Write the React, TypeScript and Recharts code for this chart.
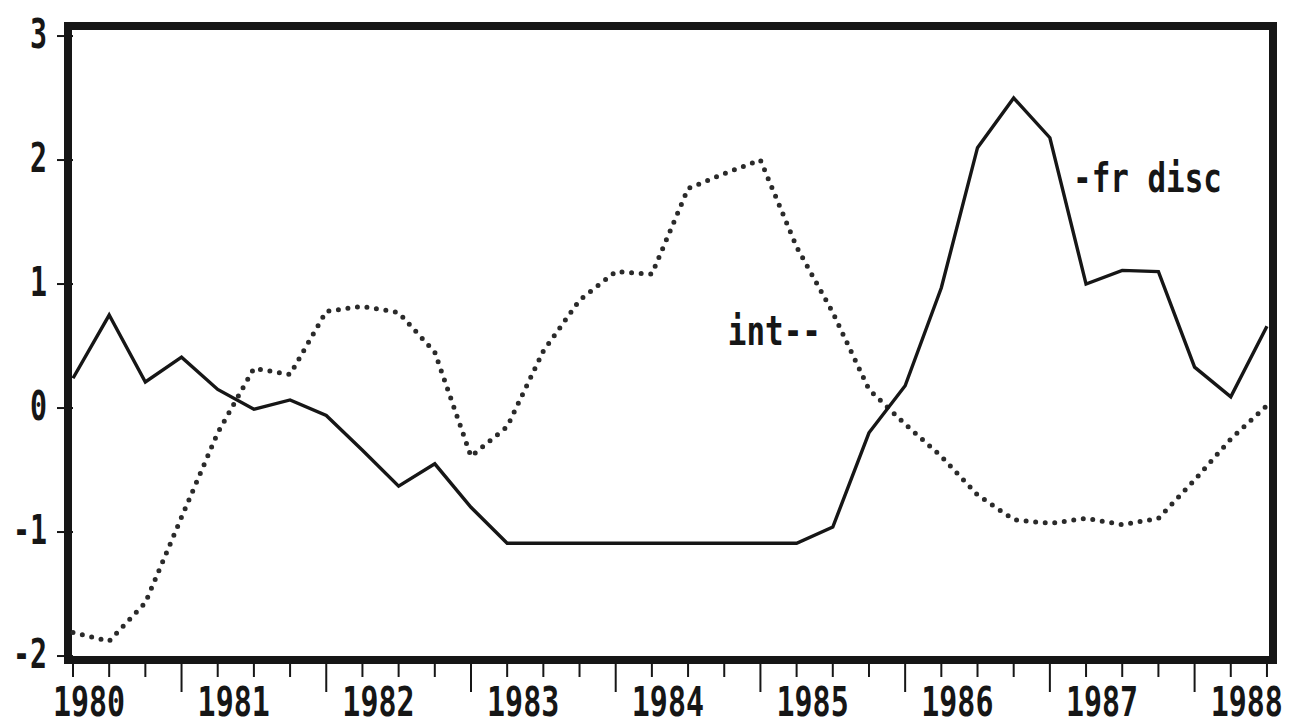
import React from 'react';
import { LineChart, Line, XAxis, YAxis, ReferenceArea, ReferenceDot } from 'recharts';

// quarter index (0 = 1980Q1 ... 33 = 1988Q2)
const quarterIdx = Array.from({ length: 34 }, (_, i) => i);
const frDisc = [0.24, 0.75, 0.21, 0.41, 0.15, -0.01, 0.065, -0.06, -0.34, -0.63, -0.45, -0.8,
  -1.09, -1.09, -1.09, -1.09, -1.09, -1.09, -1.09, -1.09, -1.09,
  -0.96, -0.2, 0.18, 0.97, 2.1, 2.5, 2.18, 1.0, 1.11, 1.1, 0.33, 0.09, 0.66];
const intRate = [-1.81, -1.88, -1.57, -0.88, -0.2, 0.32, 0.27, 0.78, 0.82, 0.77,
  0.45, -0.39, -0.15, 0.46, 0.87, 1.1, 1.08, 1.77, 1.89, 2.0,
  1.3, 0.77, 0.15, -0.13, -0.39, -0.7, -0.9, -0.93, -0.89, -0.94,
  -0.89, -0.58, -0.25, 0.02];
const yearLabels = ['1980', '1981', '1982', '1983', '1984', '1985', '1986', '1987', '1988'];
const yTicks = [-2, -1, 0, 1, 2, 3];
const annotations = [
  { text: '-fr disc', q: 27.64, v: 1.742 },
  { text: 'int--', q: 18.1, v: 0.508 },
];

const data = quarterIdx.map((q, i) => ({ q, disc: frDisc[i], int: intRate[i] }));

const X_DOMAIN: [number, number] = [-0.138, 33.167];
const Y_DOMAIN: [number, number] = [-2.032, 3.081];
const FONT = '"DejaVu Sans Mono", "Liberation Mono", monospace';
const INK = '#161616';

const NarrowText = ({ x, y, sx, anchor, size, children }: any) => (
  <text transform={`translate(${x},${y}) scale(${sx},1)`} x={0} y={0} textAnchor={anchor}
    fontFamily={FONT} fontWeight="bold" fontSize={size} fill={INK}>
    {children}
  </text>
);

const XTick = (props: any) => {
  const { x, y, payload } = props;
  const i = payload.value as number;
  const long = i % 4 === 3;
  const label = i % 4 === 0 ? yearLabels[i / 4] : null;
  return (
    <g>
      <line x1={x} x2={x} y1={y + 4} y2={y + (long ? 32 : 17)} stroke={INK} strokeWidth={2} />
      {label && (
        <NarrowText x={x + 16} y={y + 56} sx={0.75} anchor="middle" size={40}>{label}</NarrowText>
      )}
    </g>
  );
};

const YTick = (props: any) => {
  const { x, y, payload } = props;
  const s = String(payload.value);
  return (
    <g>
      <line x1={x - 11} x2={x + 5} y1={y} y2={y} stroke={INK} strokeWidth={2} />
      <NarrowText x={x - 21} y={y + 12} sx={0.69} anchor="end" size={41}>{s}</NarrowText>
    </g>
  );
};

const makeAnno = (text: string) => (p: any) => (
  <NarrowText x={p.cx} y={p.cy} sx={0.754} anchor="start" size={41}>{text}</NarrowText>
);

export default function App() {
  return (
    <div style={{ width: 1282, height: 718, background: '#fff' }}>
      <LineChart width={1282} height={718} data={data}
        margin={{ top: 18, right: 17, bottom: 0, left: 0 }}>
        <XAxis dataKey="q" type="number" domain={X_DOMAIN} allowDataOverflow
          ticks={quarterIdx} interval={0} tickSize={0} tickMargin={0}
          axisLine={false} tickLine={false} tick={<XTick />} height={66} />
        <YAxis type="number" domain={Y_DOMAIN} allowDataOverflow ticks={yTicks} interval={0}
          tickSize={0} tickMargin={0} axisLine={false} tickLine={false} tick={<YTick />} width={60} />
        <ReferenceArea x1={X_DOMAIN[0]} x2={X_DOMAIN[1]} y1={Y_DOMAIN[0]} y2={Y_DOMAIN[1]}
          fill="none" fillOpacity={0} stroke={INK} strokeWidth={8} ifOverflow="visible" />
        <Line dataKey="int" type="linear" stroke="#2a2a2a" strokeWidth={5}
          strokeDasharray="0 9.6" strokeLinecap="round" dot={false} isAnimationActive={false} />
        <Line dataKey="disc" type="linear" stroke={INK} strokeWidth={3.4}
          strokeLinejoin="miter" dot={false} isAnimationActive={false} />
        {annotations.map((a) => (
          <ReferenceDot key={a.text} x={a.q} y={a.v} r={0} ifOverflow="visible"
            shape={makeAnno(a.text)} />
        ))}
      </LineChart>
    </div>
  );
}
